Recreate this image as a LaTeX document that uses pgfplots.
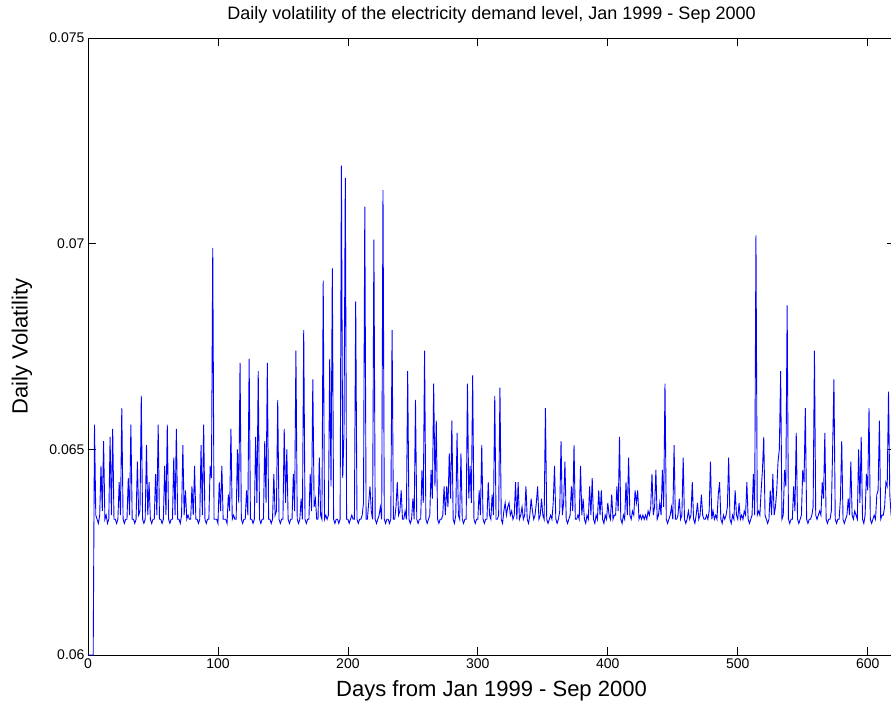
\documentclass[border=0pt]{standalone}
\usepackage{pgfplots}
\pgfplotsset{compat=1.18}
\usepackage{pgfplotstable}
\usepackage{fontspec}
\setmainfont{Liberation Sans}

% daily volatility, one value per day from day 0 (seven days per line)
\pgfplotstableread[header=false,row sep=\\]{
0.0600\\0.0600\\0.0600\\0.0600\\0.0600\\0.0656\\0.0634\\
0.0633\\0.0632\\0.0634\\0.0646\\0.0635\\0.0652\\0.0633\\
0.0634\\0.0632\\0.0633\\0.0653\\0.0634\\0.0655\\0.0633\\
0.0633\\0.0632\\0.0633\\0.0642\\0.0634\\0.0660\\0.0633\\
0.0632\\0.0633\\0.0633\\0.0643\\0.0634\\0.0656\\0.0633\\
0.0633\\0.0632\\0.0633\\0.0647\\0.0634\\0.0635\\0.0663\\
0.0633\\0.0632\\0.0633\\0.0651\\0.0634\\0.0642\\0.0633\\
0.0632\\0.0633\\0.0633\\0.0644\\0.0634\\0.0656\\0.0633\\
0.0633\\0.0632\\0.0633\\0.0646\\0.0634\\0.0656\\0.0633\\
0.0632\\0.0633\\0.0633\\0.0648\\0.0634\\0.0655\\0.0633\\
0.0633\\0.0632\\0.0634\\0.0651\\0.0634\\0.0640\\0.0633\\
0.0634\\0.0633\\0.0633\\0.0641\\0.0634\\0.0646\\0.0633\\
0.0633\\0.0632\\0.0633\\0.0651\\0.0634\\0.0656\\0.0633\\
0.0632\\0.0633\\0.0633\\0.0646\\0.0643\\0.0699\\0.0633\\
0.0633\\0.0633\\0.0632\\0.0642\\0.0635\\0.0646\\0.0633\\
0.0633\\0.0633\\0.0632\\0.0639\\0.0635\\0.0655\\0.0633\\
0.0634\\0.0633\\0.0633\\0.0650\\0.0637\\0.0671\\0.0633\\
0.0632\\0.0633\\0.0633\\0.0640\\0.0634\\0.0672\\0.0633\\
0.0633\\0.0632\\0.0633\\0.0653\\0.0637\\0.0669\\0.0633\\
0.0632\\0.0633\\0.0633\\0.0652\\0.0637\\0.0671\\0.0633\\
0.0633\\0.0632\\0.0633\\0.0644\\0.0634\\0.0635\\0.0662\\
0.0633\\0.0632\\0.0633\\0.0633\\0.0655\\0.0637\\0.0650\\
0.0633\\0.0632\\0.0633\\0.0633\\0.0644\\0.0635\\0.0674\\
0.0633\\0.0632\\0.0633\\0.0638\\0.0633\\0.0679\\0.0633\\
0.0632\\0.0633\\0.0633\\0.0644\\0.0635\\0.0667\\0.0636\\
0.0638\\0.0633\\0.0633\\0.0648\\0.0634\\0.0633\\0.0691\\
0.0633\\0.0634\\0.0633\\0.0634\\0.0672\\0.0641\\0.0694\\
0.0633\\0.0632\\0.0633\\0.0633\\0.0632\\0.0633\\0.0719\\
0.0643\\0.0654\\0.0716\\0.0633\\0.0633\\0.0632\\0.0633\\
0.0634\\0.0633\\0.0633\\0.0686\\0.0633\\0.0632\\0.0633\\
0.0633\\0.0634\\0.0637\\0.0709\\0.0633\\0.0633\\0.0637\\
0.0641\\0.0635\\0.0633\\0.0701\\0.0633\\0.0632\\0.0633\\
0.0634\\0.0636\\0.0633\\0.0713\\0.0633\\0.0632\\0.0633\\
0.0633\\0.0632\\0.0633\\0.0679\\0.0633\\0.0633\\0.0636\\
0.0642\\0.0634\\0.0635\\0.0640\\0.0633\\0.0633\\0.0635\\
0.0633\\0.0669\\0.0633\\0.0632\\0.0633\\0.0638\\0.0633\\
0.0662\\0.0633\\0.0632\\0.0633\\0.0633\\0.0645\\0.0637\\
0.0674\\0.0633\\0.0632\\0.0633\\0.0634\\0.0645\\0.0638\\
0.0666\\0.0641\\0.0657\\0.0633\\0.0632\\0.0633\\0.0633\\
0.0634\\0.0641\\0.0634\\0.0641\\0.0636\\0.0649\\0.0638\\
0.0657\\0.0633\\0.0632\\0.0634\\0.0654\\0.0634\\0.0633\\
0.0649\\0.0633\\0.0632\\0.0633\\0.0633\\0.0666\\0.0638\\
0.0646\\0.0637\\0.0668\\0.0633\\0.0632\\0.0633\\0.0633\\
0.0640\\0.0634\\0.0651\\0.0633\\0.0632\\0.0633\\0.0633\\
0.0642\\0.0634\\0.0633\\0.0639\\0.0634\\0.0663\\0.0633\\
0.0633\\0.0634\\0.0665\\0.0633\\0.0632\\0.0635\\0.0637\\
0.0634\\0.0636\\0.0637\\0.0634\\0.0635\\0.0633\\0.0634\\
0.0642\\0.0633\\0.0642\\0.0633\\0.0634\\0.0636\\0.0633\\
0.0634\\0.0641\\0.0633\\0.0632\\0.0634\\0.0638\\0.0635\\
0.0633\\0.0634\\0.0637\\0.0641\\0.0633\\0.0634\\0.0638\\
0.0634\\0.0633\\0.0660\\0.0633\\0.0632\\0.0633\\0.0634\\
0.0633\\0.0637\\0.0646\\0.0633\\0.0632\\0.0633\\0.0635\\
0.0652\\0.0634\\0.0637\\0.0647\\0.0633\\0.0632\\0.0633\\
0.0634\\0.0641\\0.0635\\0.0651\\0.0633\\0.0633\\0.0634\\
0.0633\\0.0646\\0.0634\\0.0638\\0.0633\\0.0632\\0.0634\\
0.0633\\0.0641\\0.0634\\0.0643\\0.0633\\0.0632\\0.0634\\
0.0633\\0.0640\\0.0634\\0.0640\\0.0633\\0.0632\\0.0634\\
0.0633\\0.0637\\0.0634\\0.0633\\0.0639\\0.0633\\0.0634\\
0.0634\\0.0641\\0.0635\\0.0653\\0.0633\\0.0632\\0.0634\\
0.0633\\0.0642\\0.0634\\0.0648\\0.0634\\0.0633\\0.0635\\
0.0634\\0.0640\\0.0637\\0.0640\\0.0633\\0.0634\\0.0633\\
0.0634\\0.0633\\0.0634\\0.0633\\0.0635\\0.0634\\0.0636\\
0.0644\\0.0634\\0.0636\\0.0645\\0.0633\\0.0634\\0.0637\\
0.0634\\0.0645\\0.0636\\0.0666\\0.0633\\0.0632\\0.0633\\
0.0634\\0.0636\\0.0633\\0.0651\\0.0633\\0.0633\\0.0634\\
0.0638\\0.0633\\0.0634\\0.0648\\0.0633\\0.0632\\0.0633\\
0.0635\\0.0633\\0.0634\\0.0642\\0.0633\\0.0632\\0.0634\\
0.0637\\0.0633\\0.0634\\0.0639\\0.0634\\0.0633\\0.0633\\
0.0634\\0.0633\\0.0635\\0.0647\\0.0633\\0.0635\\0.0633\\
0.0634\\0.0633\\0.0639\\0.0642\\0.0633\\0.0632\\0.0634\\
0.0633\\0.0634\\0.0636\\0.0648\\0.0633\\0.0632\\0.0634\\
0.0633\\0.0640\\0.0634\\0.0633\\0.0637\\0.0633\\0.0634\\
0.0633\\0.0635\\0.0634\\0.0642\\0.0633\\0.0632\\0.0633\\
0.0634\\0.0644\\0.0634\\0.0702\\0.0634\\0.0635\\0.0634\\
0.0640\\0.0645\\0.0653\\0.0634\\0.0633\\0.0632\\0.0633\\
0.0640\\0.0634\\0.0644\\0.0634\\0.0636\\0.0640\\0.0647\\
0.0650\\0.0669\\0.0633\\0.0634\\0.0645\\0.0641\\0.0685\\
0.0633\\0.0632\\0.0633\\0.0633\\0.0641\\0.0635\\0.0654\\
0.0633\\0.0632\\0.0633\\0.0634\\0.0645\\0.0642\\0.0660\\
0.0633\\0.0632\\0.0633\\0.0633\\0.0634\\0.0636\\0.0674\\
0.0634\\0.0633\\0.0634\\0.0635\\0.0634\\0.0642\\0.0638\\
0.0654\\0.0633\\0.0632\\0.0633\\0.0633\\0.0635\\0.0650\\
0.0667\\0.0633\\0.0632\\0.0633\\0.0633\\0.0638\\0.0652\\
0.0633\\0.0632\\0.0633\\0.0634\\0.0638\\0.0634\\0.0647\\
0.0634\\0.0633\\0.0635\\0.0634\\0.0633\\0.0650\\0.0637\\
0.0653\\0.0633\\0.0632\\0.0634\\0.0644\\0.0640\\0.0660\\
0.0633\\0.0632\\0.0633\\0.0634\\0.0633\\0.0639\\0.0640\\
0.0657\\0.0633\\0.0634\\0.0634\\0.0636\\0.0642\\0.0641\\
0.0664\\0.0639\\0.0634\\0.0633\\0.0633\\0.0633\\
}\vol

\begin{document}
\begin{tikzpicture}
\begin{axis}[
    name=ax,
    scale only axis,
    width=807pt, height=617pt,
    xmin=0, xmax=621,
    ymin=0.06, ymax=0.075,
    xtick={0,100,200,300,400,500,600},
    ytick={0.06,0.065,0.07,0.075},
    yticklabels={0.06,0.065,0.07,0.075},
    scaled y ticks=false,
    /pgf/number format/assume math mode=true,
    tick align=inside,
    tick pos=both,
    major tick length=8pt,
    axis line style={line width=0.8pt},
    every tick/.style={black, line width=0.8pt},
    tick label style={font=\fontsize{14}{16}\selectfont},
    every axis title shift=0pt,
    title={Daily volatility of the electricity demand level, Jan 1999 - Sep 2000},
    title style={font=\fontsize{18}{21}\selectfont, at={(axis description cs:0.5,1.030)}, anchor=base},
    xlabel={Days from Jan 1999 - Sep 2000},
    xlabel style={font=\fontsize{22}{26}\selectfont, at={(axis description cs:0.5,-0.0665)}, anchor=base},
    ylabel={Daily Volatility},
    ylabel style={font=\fontsize{22}{26}\selectfont, at={(axis description cs:-0.0818,0.5)}, anchor=center},
]
\addplot[blue, line width=0.9pt, mark=none] table[x expr=\coordindex, y index=0] {\vol};
\end{axis}
\pgfresetboundingbox
\useasboundingbox ([xshift=-88pt,yshift=-47pt]ax.south west) rectangle ([xshift=803pt,yshift=38pt]ax.north west);
\end{tikzpicture}
\end{document}
